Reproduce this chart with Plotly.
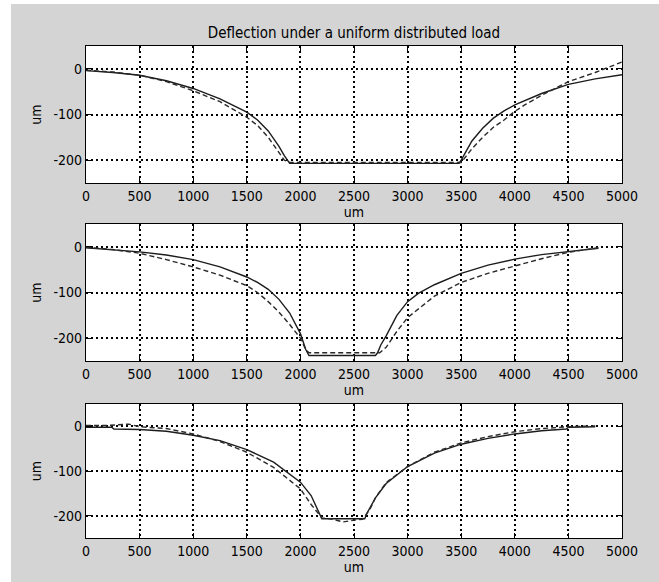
import plotly.graph_objects as go
from plotly.subplots import make_subplots

# ---------------- data ----------------
x1_solid = [0, 250, 500, 750, 1000, 1250, 1500, 1600, 1700, 1800, 1850, 1880, 1900, 2500, 3000, 3480, 3500, 3550, 3600, 3700, 3800, 3900, 4000, 4250, 4500, 4750, 5000]
y1_solid = [-4, -8, -14, -26, -43, -66, -95, -112, -136, -170, -190, -202, -207, -207, -207, -207, -200, -178, -158, -130, -108, -92, -79, -54, -34, -22, -13]
x1_dash = [0, 250, 500, 750, 1000, 1250, 1500, 1600, 1700, 1800, 1850, 1900, 2500, 3000, 3500, 3550, 3600, 3700, 3800, 3900, 4000, 4100, 4250, 4500, 4750, 5000]
y1_dash = [-3, -7, -14, -28, -48, -72, -106, -124, -150, -182, -200, -205, -205, -205, -205, -190, -175, -150, -128, -112, -93, -78, -58, -28, -8, 15]

x2_solid = [0, 250, 500, 750, 1000, 1250, 1500, 1600, 1700, 1800, 1900, 2000, 2050, 2080, 2700, 2720, 2750, 2800, 2900, 3000, 3100, 3250, 3500, 3750, 4000, 4250, 4500, 4780]
y2_solid = [-2, -6, -11, -18, -28, -44, -66, -78, -93, -115, -145, -190, -225, -238, -238, -232, -215, -195, -150, -120, -102, -83, -58, -40, -27, -17, -10, -3]
x2_dash = [0, 250, 500, 750, 1000, 1250, 1500, 1600, 1700, 1800, 1900, 2000, 2050, 2080, 2740, 2800, 2900, 3000, 3250, 3500, 3750, 4000, 4250, 4500, 4780]
y2_dash = [-1, -6, -14, -28, -44, -62, -85, -100, -120, -143, -170, -200, -225, -232, -232, -220, -185, -155, -108, -78, -58, -42, -26, -12, -2]

x3_solid = [0, 240, 260, 500, 750, 1000, 1250, 1500, 1750, 2000, 2100, 2180, 2200, 2600, 2620, 2700, 2800, 3000, 3250, 3500, 3750, 4000, 4250, 4480, 4500, 4750]
y3_solid = [-2, -2, -6, -7, -11, -20, -32, -52, -80, -125, -155, -195, -207, -207, -195, -160, -128, -90, -60, -40, -27, -17, -10, -6, -2, -1]
x3_dash = [0, 200, 400, 500, 750, 1000, 1250, 1500, 1750, 2000, 2100, 2200, 2300, 2400, 2500, 2580, 2650, 2700, 2800, 3000, 3250, 3500, 3750, 4000, 4250, 4500, 4750]
y3_dash = [2, 2, 5, -1, -5, -17, -34, -58, -92, -140, -175, -205, -208, -214, -210, -208, -185, -160, -126, -90, -58, -37, -23, -12, -5, -1, 1]

x_ticks = [0, 500, 1000, 1500, 2000, 2500, 3000, 3500, 4000, 4500, 5000]
y_ticks = [-200, -100, 0]
title_text = "Deflection under a uniform distributed load"
axis_label = "um"

series = [
    (x1_solid, y1_solid, x1_dash, y1_dash),
    (x2_solid, y2_solid, x2_dash, y2_dash),
    (x3_solid, y3_solid, x3_dash, y3_dash),
]

# ---------------- layout geometry ----------------
W, H = 659, 582
L, R, T, B = 86, 37, 46, 44
PH = H - T - B  # plot area height
PW = W - L - R

def dom(top_px, bot_px):
    return [(H - B - bot_px) / PH, (H - B - top_px) / PH]

domains = [dom(46, 183), dom(224, 361), dom(404, 538)]

FONT = "DejaVu Sans Condensed, Liberation Sans Narrow, Liberation Sans, Arial, sans-serif"
GRAY = "#d4d4d4"

fig = make_subplots(rows=3, cols=1)

for i, (xs, ys, xd, yd) in enumerate(series, start=1):
    fig.add_trace(go.Scatter(x=xs, y=ys, mode="lines",
                             line=dict(color="#1c1c1c", width=1.4),
                             showlegend=False), row=i, col=1)
    fig.add_trace(go.Scatter(x=xd, y=yd, mode="lines",
                             line=dict(color="#2a2a2a", width=1.4, dash="5px,3px"),
                             showlegend=False), row=i, col=1)

for i in range(1, 4):
    xa = "xaxis" if i == 1 else f"xaxis{i}"
    ya = "yaxis" if i == 1 else f"yaxis{i}"
    fig.layout[xa].update(
        domain=[0, 1], range=[0, 5000], tickvals=x_ticks,
        ticktext=[str(v) for v in x_ticks],
        showline=True, linecolor="black", linewidth=1.3, mirror="ticks",
        ticks="inside", ticklen=5, tickcolor="black", tickwidth=1.3,
        showgrid=True, gridcolor="black", gridwidth=1.8, griddash="2px,3px",
        zeroline=False, automargin=False,
        tickfont=dict(family=FONT, size=14, color="black"),
        title=dict(text=axis_label, font=dict(family=FONT, size=14, color="black"), standoff=2),
    )
    fig.layout[ya].update(
        domain=domains[i - 1], range=[-250, 50], tickvals=y_ticks,
        ticktext=[str(v) for v in y_ticks],
        showline=True, linecolor="black", linewidth=1.3, mirror="ticks",
        ticks="inside", ticklen=5, tickcolor="black", tickwidth=1.3,
        showgrid=True, gridcolor="black", gridwidth=1.8, griddash="2px,3px",
        zeroline=False, automargin=False,
        tickfont=dict(family=FONT, size=14, color="black"),
        title=dict(text=axis_label, font=dict(family=FONT, size=14, color="black"), standoff=8),
    )

fig.update_layout(
    width=W, height=H,
    margin=dict(l=L, r=R, t=T, b=B),
    paper_bgcolor=GRAY, plot_bgcolor="white",
    title=dict(text=title_text, x=(L + PW / 2) / W, xanchor="center",
               y=1 - 33 / H, yanchor="middle", automargin=False,
               font=dict(family=FONT, size=15, color="black")),
    shapes=[
        dict(type="rect", xref="paper", yref="paper",
             x0=-L / PW - 0.01, x1=(11 - L) / PW, y0=-B / PH - 0.01, y1=(H - B) / PH + 0.01,
             fillcolor="white", line=dict(width=0), layer="above"),
        dict(type="rect", xref="paper", yref="paper",
             x0=-L / PW - 0.01, x1=(W - L) / PW + 0.01, y0=(H - B - 4) / PH, y1=(H - B) / PH + 0.01,
             fillcolor="white", line=dict(width=0), layer="above"),
    ],
)

fig.write_html("out.html", config={"displayModeBar": False},
               post_script="document.body.style.margin='0';")
